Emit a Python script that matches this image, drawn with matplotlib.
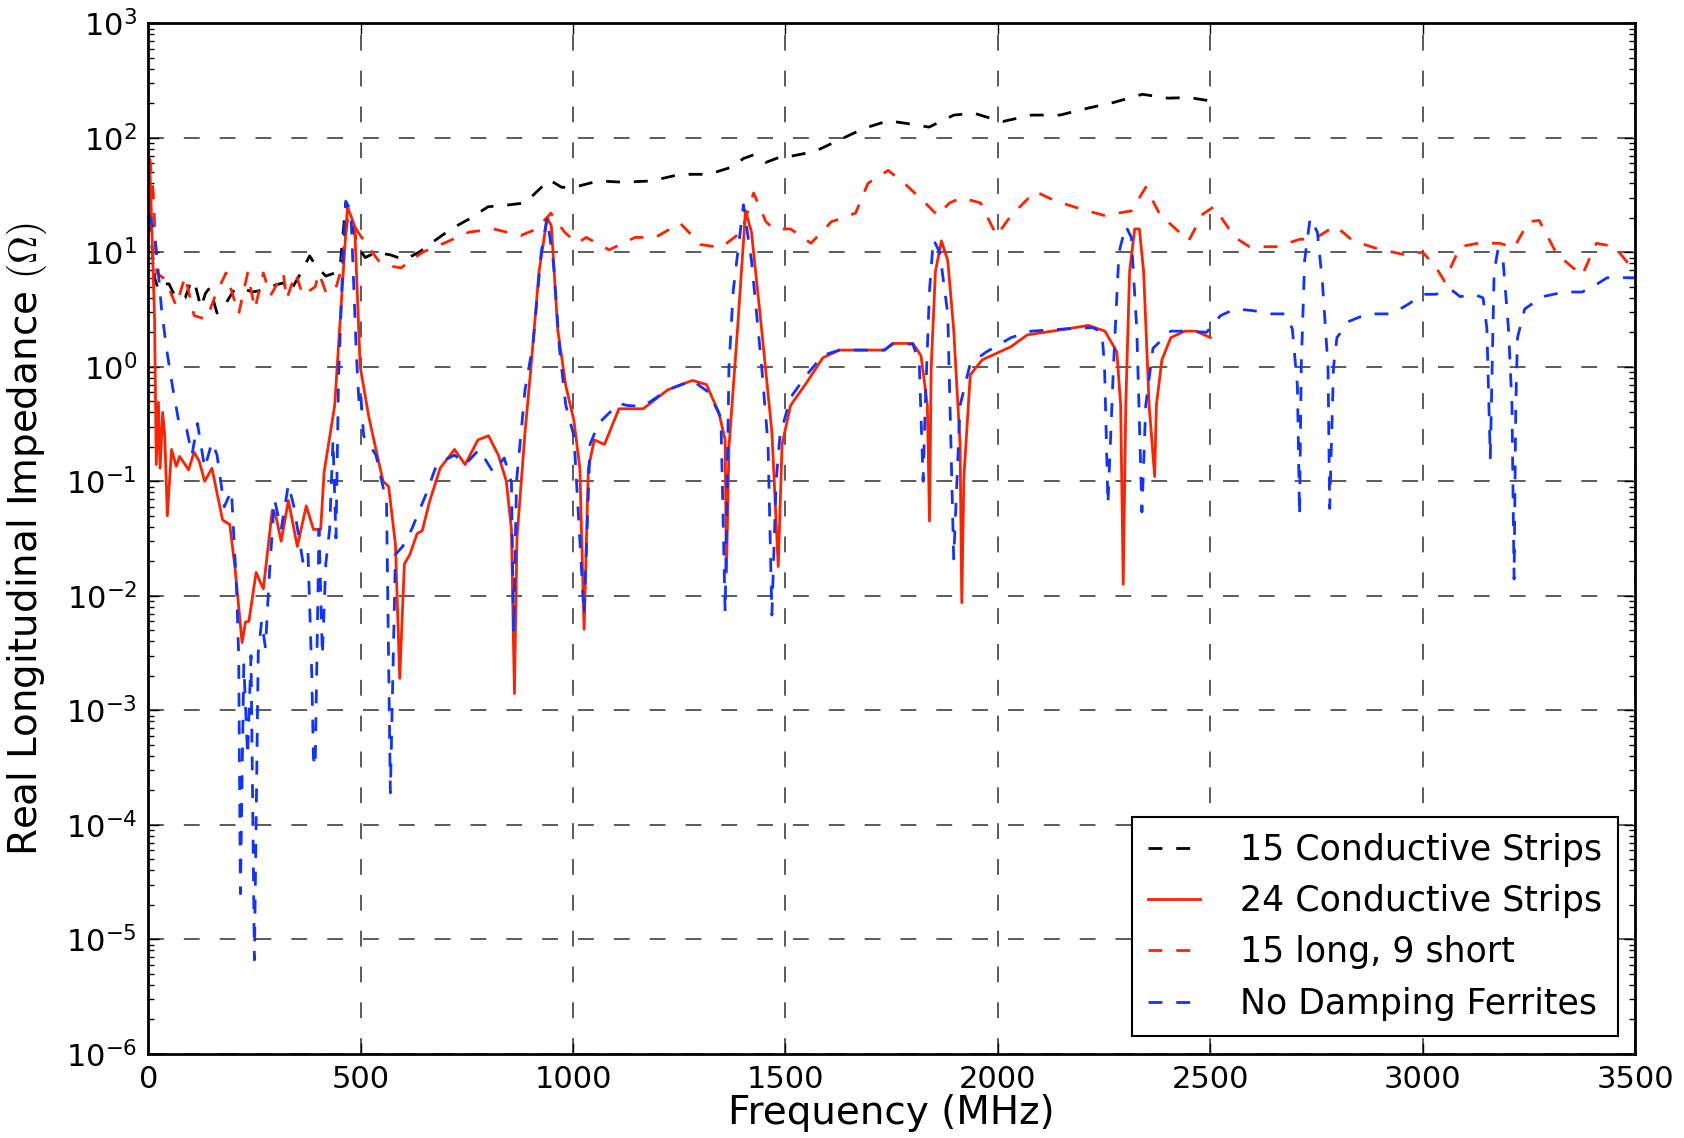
import matplotlib
matplotlib.use('Agg')
import matplotlib.pyplot as plt
import numpy as np
from matplotlib.ticker import LogLocator, NullFormatter, MultipleLocator

plt.rcParams['font.family'] = ['DejaVu Sans']
plt.rcParams['axes.unicode_minus'] = False
plt.rcParams['mathtext.fontset'] = 'cm'

# 15 Conductive Strips (black dashed)
f_15 = [0, 8, 15, 24, 35, 49, 62, 75, 87, 98, 108, 124, 135, 145, 162, 183, 204, 225, 245, 259,
        280, 300, 318, 334, 359, 380, 393, 418, 439, 452, 465, 480, 494, 511, 536, 570, 603, 637,
        679, 713, 755, 800, 850, 887, 944, 973, 1002, 1060, 1117, 1185, 1252, 1319, 1377, 1401,
        1425, 1454, 1492, 1512, 1569, 1627, 1685, 1742, 1800, 1838, 1896, 1944, 1973, 2012, 2079,
        2146, 2213, 2271, 2340, 2400, 2450, 2500]
z_15 = [20, 12, 6, 4.7, 5.3, 5.3, 4.2, 3.9, 4.0, 5.2, 5.7, 3.3, 4.4, 4.9, 2.95, 3.6, 4.8, 4.8, 4.5, 4.6,
        4.8, 5.2, 5.4, 4.5, 6.6, 9.3, 7.8, 6.2, 6.6, 7.6, 27, 18, 11, 9, 10, 9.5, 8.6, 10,
        13, 16, 19.5, 25, 26, 27, 43, 37, 37, 42, 41, 42, 48, 48, 56, 66,
        71, 61, 69, 69, 76, 96, 121, 141, 131, 124, 158, 164, 152, 139, 158,
        158, 182, 203, 240, 222, 225, 210]

# 24 Conductive Strips (red solid)
f_24 = [0, 3, 7, 15, 19, 24, 28, 34, 39, 45, 55, 66, 74, 87, 95, 108, 120, 133, 150, 162, 175, 192,
        204, 221, 229, 237, 254, 271, 292, 300, 313, 330, 351, 372, 389, 406, 414, 439, 452, 469,
        486, 499, 519, 536, 553, 566, 582, 592, 603, 616, 633, 645, 662, 687, 721, 746, 776, 801,
        824, 843, 855, 862, 868, 887, 901, 920, 939, 949, 964, 983, 1002, 1016, 1026, 1036, 1050,
        1074, 1108, 1165, 1223, 1281, 1314, 1343, 1358, 1361, 1367, 1387, 1406, 1420, 1444, 1468,
        1483, 1492, 1512, 1550, 1588, 1627, 1685, 1733, 1752, 1800, 1819, 1834, 1839, 1843, 1853,
        1867, 1882, 1896, 1911, 1915, 1920, 1935, 1963, 2031, 2069, 2165, 2213, 2252, 2280, 2289,
        2295, 2301, 2310, 2322, 2333, 2343, 2356, 2369, 2373, 2386, 2407, 2440, 2466, 2500]
z_24 = [65, 65, 25, 2.6, 0.14, 0.49, 0.13, 0.4, 0.25, 0.05, 0.19, 0.135, 0.165, 0.14, 0.126, 0.18,
        0.15, 0.1, 0.13, 0.079, 0.046, 0.042,
        0.018, 0.0039, 0.0059, 0.006, 0.016, 0.0115, 0.056, 0.051, 0.03, 0.068, 0.027, 0.061, 0.038,
        0.038, 0.12, 0.46, 2.6, 25,
        17, 1.0, 0.37, 0.19, 0.1, 0.09, 0.028, 0.0019, 0.019, 0.023, 0.035, 0.037, 0.066, 0.13, 0.19,
        0.14, 0.23, 0.25,
        0.17, 0.1, 0.038, 0.0014, 0.032, 0.27, 1.0, 6.8, 20, 17, 2.1, 0.68, 0.34, 0.13, 0.0051, 0.13,
        0.23,
        0.21, 0.43, 0.43, 0.63, 0.76, 0.7, 0.4, 0.23, 0.016, 0.2, 2.1, 23, 15, 2.1, 0.27,
        0.018, 0.21, 0.46, 0.73, 1.2, 1.4, 1.4, 1.4, 1.6, 1.6, 1.25, 0.46, 0.045, 1.0, 6.8,
        12.6, 8.5, 2.1, 0.21, 0.0087, 0.11, 0.85, 1.15, 1.5, 1.9, 2.15, 2.3, 2.05, 1.35, 0.46,
        0.0126, 0.46, 6.8, 16, 16, 6.8, 0.46, 0.11, 0.46, 1.15, 1.8, 2.05, 2.05, 1.8]

# 15 long, 9 short (red dashed)
f_mix = [0, 4, 12, 20, 40, 66, 87, 108, 137, 158, 183, 213, 234, 251, 271, 288, 318, 326, 347, 364,
         393, 402, 418, 439, 452, 470, 477, 494, 519, 544, 570, 595, 645, 696, 755, 813, 877, 914,
         948, 980, 1010, 1031, 1085, 1146, 1194, 1252, 1300, 1348, 1396, 1425, 1454, 1473, 1512,
         1560, 1608, 1665, 1694, 1742, 1790, 1829, 1858, 1886, 1915, 1959, 1997, 2031, 2088, 2136,
         2194, 2250, 2314, 2348, 2381, 2449, 2482, 2508, 2558, 2592, 2659, 2710, 2743, 2794, 2836,
         2895, 2954, 3000, 3029, 3051, 3088, 3130, 3181, 3215, 3249, 3274, 3316, 3375, 3409, 3451,
         3500]
z_mix = [65, 65, 33, 6.6, 5.8, 3.4, 6.2, 2.8, 2.6, 4.2, 6.6, 2.9, 6.6, 3.2, 6.6, 4.2, 6.6, 3.9, 6.6,
         4.2, 5.0, 6.6, 4.5, 4.5, 6.6, 20, 19.5, 15, 11, 8.3, 7.6, 7.3, 10, 12, 15, 16, 14, 16,
         22, 15, 12, 13.5, 10.5, 13.5, 13.5, 18, 11.7, 11, 15, 33, 18.5, 16, 16,
         12, 18.5, 22, 40, 52, 37, 27, 21, 27, 30, 27, 14, 21, 34, 28,
         24, 21, 23, 37, 21.5, 12.6, 21.5, 25, 13.5, 11.2, 11.2, 13, 13, 17, 12.6,
         10.7, 9.6, 10, 7.6, 5.6, 11.2, 12, 12, 11, 18.5, 19, 9.6, 6.3, 12, 11.2,
         6.8]

# No Damping Ferrites (blue dashed)
f_nd = [0, 3, 15, 24, 32, 45, 57, 74, 91, 103, 116, 133, 150, 162, 179, 196, 208, 213, 217, 225,
        234, 242, 250, 259, 267, 276, 284, 297, 313, 330, 343, 364, 376, 385, 389, 393, 402, 410,
        418, 427, 435, 442, 448, 458, 465, 477, 490, 496, 500, 507, 536, 561, 570, 582, 599, 620,
        654, 679, 721, 746, 779, 812, 838, 855, 860, 867, 877, 887, 906, 925, 939, 954, 968, 983,
        1002, 1026, 1040, 1060, 1108, 1127, 1165, 1223, 1281, 1319, 1348, 1358, 1367, 1377, 1401,
        1420, 1444, 1459, 1468, 1478, 1487, 1512, 1550, 1588, 1627, 1685, 1733, 1752, 1800, 1815,
        1824, 1829, 1839, 1848, 1863, 1882, 1896, 1911, 1935, 1973, 2031, 2079, 2165, 2223, 2245,
        2251, 2259, 2272, 2285, 2301, 2314, 2327, 2339, 2348, 2365, 2407, 2449, 2491, 2524, 2558,
        2600, 2642, 2676, 2693, 2705, 2710, 2714, 2722, 2735, 2752, 2764, 2777, 2781, 2790, 2798,
        2827, 2870, 2928, 2970, 3000, 3029, 3071, 3088, 3121, 3142, 3151, 3159, 3168, 3177, 3189,
        3202, 3210, 3215, 3219, 3223, 3240, 3282, 3333, 3375, 3400, 3434, 3500]
z_nd = [21, 21, 15, 6.6, 3.0, 1.3, 0.68, 0.3, 0.28, 0.17, 0.32, 0.13, 0.22, 0.17, 0.06, 0.083, 0.0115,
        0.003, 2.5e-5, 2.5e-3,
        4e-4, 3e-3, 6.6e-6, 3.2e-3, 6e-3, 3.5e-3, 1.3e-2, 0.07, 0.038, 0.094, 0.06, 0.02, 0.025,
        2.1e-3, 3.8e-4, 3.2e-4, 0.038, 3e-3,
        0.019, 0.038, 0.23, 0.032, 0.78, 8, 28, 23, 1.3, 0.5, 0.6, 0.25, 0.17, 0.065, 1.9e-4, 0.023,
        0.027, 0.038,
        0.077, 0.14, 0.17, 0.14, 0.19, 0.12, 0.16, 0.098, 0.0048, 0.1, 0.25, 0.63, 1.6, 10, 20, 8,
        1.45, 0.46,
        0.25, 0.0068, 0.21, 0.32, 0.48, 0.46, 0.45, 0.63, 0.76, 0.6, 0.36, 0.0072, 1.0, 4.6, 26,
        8.5, 1.0, 0.21, 0.0068, 0.1, 0.25, 0.54, 0.85, 1.26, 1.4, 1.4, 1.4, 1.58, 1.58, 1.07,
        0.1, 0.46, 4.6, 13, 10, 2.9, 0.021, 0.46, 1.07, 1.35, 1.8, 2.05, 2.15, 2.2, 2.0,
        1.0, 0.063, 1.0, 10, 17, 13.5, 2.1, 0.054, 0.46, 1.45, 2.05, 2.05, 2.0, 2.8, 3.2,
        3.1, 2.9, 2.9, 2.15, 0.68, 0.05, 1.0, 8.5, 20, 15, 5.4, 1.0, 0.058, 1.0, 1.8,
        2.5, 2.9, 2.9, 3.6, 4.3, 4.3, 4.6, 4.1, 4.3, 4.0, 2.15, 0.16, 6.8, 10.5, 8.5,
        2.1, 0.46, 0.014, 0.46, 1.8, 3.2, 4.1, 4.5, 4.5, 5.0, 6.0, 6.0]

red = '#ff2200'
blue = '#1133ff'
dash = (5, 5)

fig = plt.figure(figsize=(16.84, 11.38), dpi=100)
ax = fig.add_axes([0.088, 0.074, 0.883, 0.9055])

ax.semilogy(f_15, z_15, color='k', lw=2, dashes=dash, label='15 Conductive Strips')
ax.semilogy(f_24, z_24, color=red, lw=2, label='24 Conductive Strips')
ax.semilogy(f_mix, z_mix, color=red, lw=2, dashes=dash, label='15 long, 9 short')
ax.semilogy(f_nd, z_nd, color=blue, lw=2, dashes=dash, label='No Damping Ferrites')

ax.set_xlim(0, 3500)
ax.set_ylim(1e-6, 1e3)
ax.xaxis.set_major_locator(MultipleLocator(500))
ax.yaxis.set_major_locator(LogLocator(base=10, numticks=20))
ax.yaxis.set_minor_locator(LogLocator(base=10, subs=np.arange(2, 10), numticks=100))
ax.yaxis.set_minor_formatter(NullFormatter())

ax.grid(True, which='major', color='0.25', lw=1.2, linestyle=(0, (9.5, 12)))
ax.tick_params(which='both', direction='in', top=True, right=True, labelsize=22, pad=8)
ax.tick_params(which='major', length=8, width=1)
ax.tick_params(which='minor', length=4, width=1)
for s in ax.spines.values():
    s.set_linewidth(2)

ax.set_xlabel('Frequency (MHz)', fontsize=28, labelpad=0)
ax.set_ylabel(r'Real Longitudinal Impedance $(\Omega)$', fontsize=28, labelpad=12)

leg = ax.legend(loc='lower right', fontsize=25, handlelength=1.5, handletextpad=1.15,
                fancybox=False, framealpha=1, borderaxespad=0.5, borderpad=0.45)
leg.get_frame().set_edgecolor('k')
leg.get_frame().set_linewidth(1.5)

fig.savefig('out.png', dpi=100)
